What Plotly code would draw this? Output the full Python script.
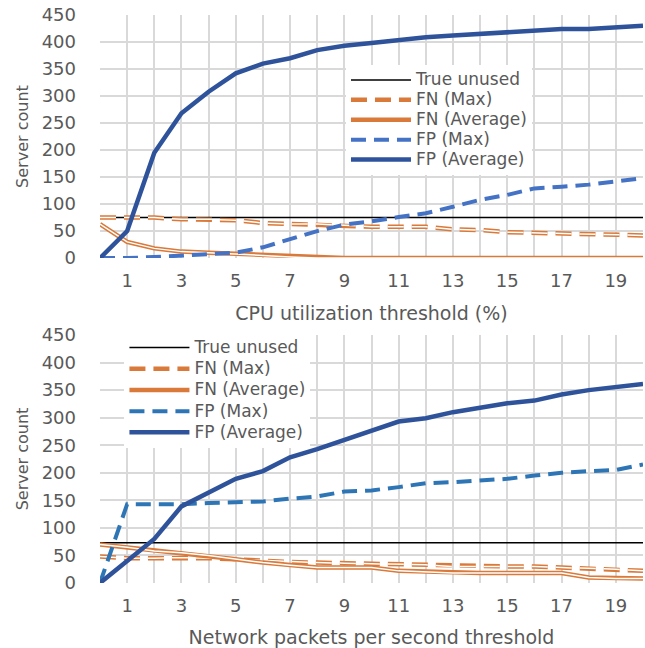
import plotly.graph_objects as go
from plotly.subplots import make_subplots

x = list(range(0, 21))
odd_ticks = [1, 3, 5, 7, 9, 11, 13, 15, 17, 19]
y_ticks = [0, 50, 100, 150, 200, 250, 300, 350, 400, 450]

# CPU utilization panel
cpu_true_unused = [75] * 21
cpu_fn_max = [75, 75, 75, 72, 72, 70, 65, 63, 63, 61, 58, 58, 58, 53, 52, 48, 47, 45, 44, 43, 42]
cpu_fn_avg = [63, 30, 18, 12, 10, 8, 5, 2, 0, 0, 0, 0, 0, 0, 0, 0, 0, 0, 0, 0, 0]
cpu_fp_max = [0, 0, 2, 5, 8, 10, 20, 35, 50, 62, 68, 76, 83, 95, 108, 117, 129, 132, 136, 142, 148]
cpu_fp_avg = [0, 50, 195, 268, 308, 342, 360, 370, 385, 393, 398, 404, 409, 412, 415, 418, 421, 424, 424, 427, 430]

# Network packets panel
net_true_unused = [73] * 21
net_fn_max = [48, 45, 45, 46, 45, 43, 40, 38, 37, 36, 35, 34, 33, 30, 30, 30, 30, 28, 27, 25, 22]
net_fn_avg = [70, 65, 58, 55, 50, 43, 37, 32, 28, 28, 28, 22, 20, 18, 18, 18, 18, 18, 10, 8, 8]
net_fp_max = [0, 143, 143, 143, 145, 146, 148, 153, 157, 166, 168, 174, 181, 183, 186, 189, 195, 200, 203, 205, 215]
net_fp_avg = [0, 40, 80, 139, 165, 189, 203, 228, 243, 260, 278, 293, 299, 310, 318, 326, 331, 342, 350, 356, 361]

series_names = ["True unused", "FN (Max)", "FN (Average)", "FP (Max)", "FP (Average)"]

ORANGE = "#d9793a"
BLUE_DARK = "#2f539b"
BLUE_TOP = "#4472c4"
BLUE_BOT = "#2e75b6"
GRAY_TXT = "#595959"
GRID = "#d9d9d9"
FONT = "DejaVu Sans"

fig = make_subplots(rows=2, cols=1, vertical_spacing=0.1)


def lbl(name):
    return '<span style="font-size:17px">' + name + '</span>'


def add_panel(row, legend, true_unused, fn_max, fn_avg, fp_max, fp_avg, fpmax_color):
    fig.add_trace(go.Scatter(x=x, y=true_unused, mode="lines", name=lbl(series_names[0]),
                             line=dict(color="black", width=1.5), legend=legend), row=row, col=1)
    fig.add_trace(go.Scatter(x=x, y=fn_max, mode="lines", name=lbl(series_names[1]),
                             line=dict(color=ORANGE, width=4.5, dash="16px,8px"), legend=legend), row=row, col=1)
    fig.add_trace(go.Scatter(x=x, y=fn_max, mode="lines", showlegend=False, hoverinfo="skip",
                             line=dict(color="white", width=1.5, dash="16px,8px")), row=row, col=1)
    fig.add_trace(go.Scatter(x=x, y=fn_avg, mode="lines", name=lbl(series_names[2]),
                             line=dict(color=ORANGE, width=4.5), legend=legend), row=row, col=1)
    fig.add_trace(go.Scatter(x=x, y=fn_avg, mode="lines", showlegend=False, hoverinfo="skip",
                             line=dict(color="white", width=1.5)), row=row, col=1)
    fig.add_trace(go.Scatter(x=x, y=fp_max, mode="lines", name=lbl(series_names[3]),
                             line=dict(color=fpmax_color, width=4, dash="15px,8px"), legend=legend), row=row, col=1)
    fig.add_trace(go.Scatter(x=x, y=fp_avg, mode="lines", name=lbl(series_names[4]),
                             line=dict(color=BLUE_DARK, width=4.5), legend=legend), row=row, col=1)


add_panel(1, "legend", cpu_true_unused, cpu_fn_max, cpu_fn_avg, cpu_fp_max, cpu_fp_avg, BLUE_TOP)
add_panel(2, "legend2", net_true_unused, net_fn_max, net_fn_avg, net_fp_max, net_fp_avg, BLUE_BOT)

axis_font = dict(family=FONT, size=18, color=GRAY_TXT)
for r, title in [(1, "CPU utilization threshold (%)"), (2, "Network packets per second threshold")]:
    fig.update_xaxes(row=r, col=1, range=[0, 20], tickmode="array", tickvals=odd_ticks,
                     ticktext=[str(v) for v in odd_ticks], showgrid=True, gridcolor=GRID, gridwidth=1.5,
                     minor=dict(dtick=1, tick0=0, showgrid=True, gridcolor=GRID, gridwidth=1.5),
                     zeroline=False, showline=False, tickfont=axis_font, ticks="", ticklen=0,
                     ticklabelstandoff=10, automargin=False,
                     title=dict(text=title, font=dict(family=FONT, size=19, color=GRAY_TXT), standoff=16))
    fig.update_yaxes(row=r, col=1, range=[0, 450], tickmode="array", tickvals=y_ticks,
                     showgrid=True, gridcolor=GRID, gridwidth=1.5, zeroline=False,
                     showline=False, tickfont=axis_font, ticks="", ticklabelstandoff=23, automargin=False,
                     title=dict(text="Server count", font=dict(family=FONT, size=16, color=GRAY_TXT), standoff=9))

fig.update_xaxes(row=1, col=1, domain=[0, 1])
fig.update_yaxes(row=1, col=1, domain=[0.572, 1.0])
fig.update_yaxes(row=2, col=1, domain=[0.0, 0.4366])

fig.update_layout(
    width=645, height=648,
    margin=dict(l=100, r=2, t=15, b=65),
    paper_bgcolor="white", plot_bgcolor="white",
    showlegend=True,
    legend=dict(x=0.453, y=0.912, xanchor="left", yanchor="top", bgcolor="white",
                font=dict(family=FONT, size=13, color=GRAY_TXT), tracegroupgap=0, itemwidth=60, borderwidth=0),
    legend2=dict(x=0.045, y=0.442, xanchor="left", yanchor="top", bgcolor="white",
                 font=dict(family=FONT, size=14, color=GRAY_TXT), tracegroupgap=0, itemwidth=60, borderwidth=0),
)

# remove the default page margin so the figure fills the window exactly
fig.write_html("out.html", config={"displayModeBar": False},
               post_script="document.body.style.margin='0';")
